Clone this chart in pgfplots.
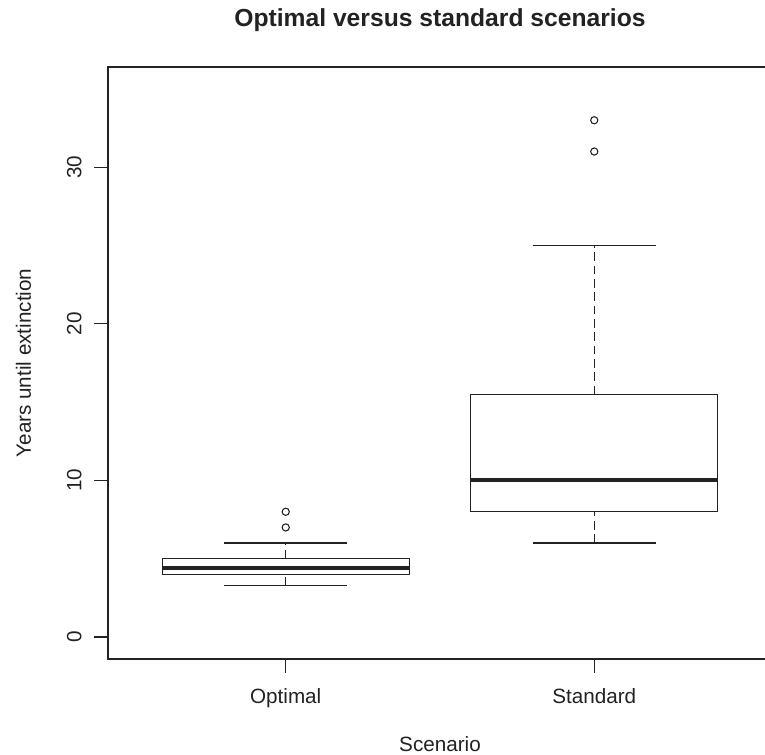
\documentclass[border=0pt]{standalone}
\usepackage{fontspec}
\setmainfont{Liberation Sans}
\usepackage{pgfplots}
\pgfplotsset{compat=1.18}
\usepgfplotslibrary{statistics}

\definecolor{ink}{HTML}{222222}

% R-style box-and-whisker drawing: vertical boxes, dashed stems,
% solid staples, heavy median line
\pgfplotsset{
  boxplot/draw direction=y,
  boxplot/draw/box/.code={%
    \draw[ink, line width=0.9pt]
      (boxplot box cs:\pgfplotsboxplotvalue{lower quartile},0) rectangle
      (boxplot box cs:\pgfplotsboxplotvalue{upper quartile},1);
  },
  boxplot/draw/lower whisker/.code={%
    \draw[ink, line width=0.9pt, dash pattern=on 6.5pt off 3.5pt]
      (boxplot box cs:\pgfplotsboxplotvalue{lower whisker},0.5) --
      (boxplot box cs:\pgfplotsboxplotvalue{lower quartile},0.5);
    \draw[ink, line width=0.9pt]
      (boxplot whisker cs:\pgfplotsboxplotvalue{lower whisker},0) --
      (boxplot whisker cs:\pgfplotsboxplotvalue{lower whisker},1);
  },
  boxplot/draw/upper whisker/.code={%
    \draw[ink, line width=0.9pt, dash pattern=on 6.5pt off 3.5pt]
      (boxplot box cs:\pgfplotsboxplotvalue{upper quartile},0.5) --
      (boxplot box cs:\pgfplotsboxplotvalue{upper whisker},0.5);
    \draw[ink, line width=0.9pt]
      (boxplot whisker cs:\pgfplotsboxplotvalue{upper whisker},0) --
      (boxplot whisker cs:\pgfplotsboxplotvalue{upper whisker},1);
  },
  boxplot/draw/median/.code={%
    \draw[ink, line width=3pt]
      (boxplot box cs:\pgfplotsboxplotvalue{median},0) --
      (boxplot box cs:\pgfplotsboxplotvalue{median},1);
  },
}

\begin{document}
\begin{tikzpicture}
\begin{axis}[
  at={(0,0)}, anchor=south west,
  scale only axis, width=498pt, height=444pt,
  xmin=0.424, xmax=2.576, ymin=-1.4, ymax=36.4,
  axis line style={ink, line width=0.9pt},
  xtick={1,2}, xticklabels={Optimal,Standard},
  ytick={0,10,20,30},
  tick pos=left, tick align=outside,
  major tick length=10.5pt,
  every tick/.style={ink, line width=0.9pt},
  /pgf/number format/assume math mode=true,
  tick label style={font=\fontsize{15.5}{18}\selectfont, text=ink},
  yticklabel style={rotate=90, anchor=base},
  yticklabel shift=9.4pt,
  xticklabel style={anchor=base},
  xticklabel shift=23.25pt,
  title={Optimal versus standard scenarios},
  title style={at={([yshift=24pt]axis description cs:0.5,1)}, anchor=base,
    font=\bfseries\fontsize{18.5}{22}\selectfont, text=ink},
  xlabel={Scenario},
  xlabel style={at={([yshift=-69.75pt]axis description cs:0.5,0)}, anchor=base,
    font=\fontsize{15.5}{18}\selectfont, text=ink},
  ylabel={Years until extinction},
  ylabel style={at={([xshift=-57.75pt]axis description cs:0,0.5)}, anchor=base,
    font=\fontsize{15.5}{18}\selectfont, text=ink},
]
% Optimal scenario (outliers at 7 and 8)
\addplot[ink, line width=0.9pt, mark=o, mark size=2.7pt,
  mark options={solid, line width=0.8pt},
  boxplot prepared={draw position=1,
    lower whisker=3.3, lower quartile=4, median=4.4,
    upper quartile=5, upper whisker=6,
    box extend=0.8, whisker extend=0.4}]
  coordinates {(1,7) (1,8)};
% Standard scenario (outliers at 31 and 33)
\addplot[ink, line width=0.9pt, mark=o, mark size=2.7pt,
  mark options={solid, line width=0.8pt},
  boxplot prepared={draw position=2,
    lower whisker=6, lower quartile=8, median=10,
    upper quartile=15.5, upper whisker=25,
    box extend=0.8, whisker extend=0.4}]
  coordinates {(2,31) (2,33)};
\end{axis}
\pgfresetboundingbox
\path[use as bounding box] (-81pt,-72pt) rectangle (492.75pt,494.25pt);
\end{tikzpicture}
\end{document}
